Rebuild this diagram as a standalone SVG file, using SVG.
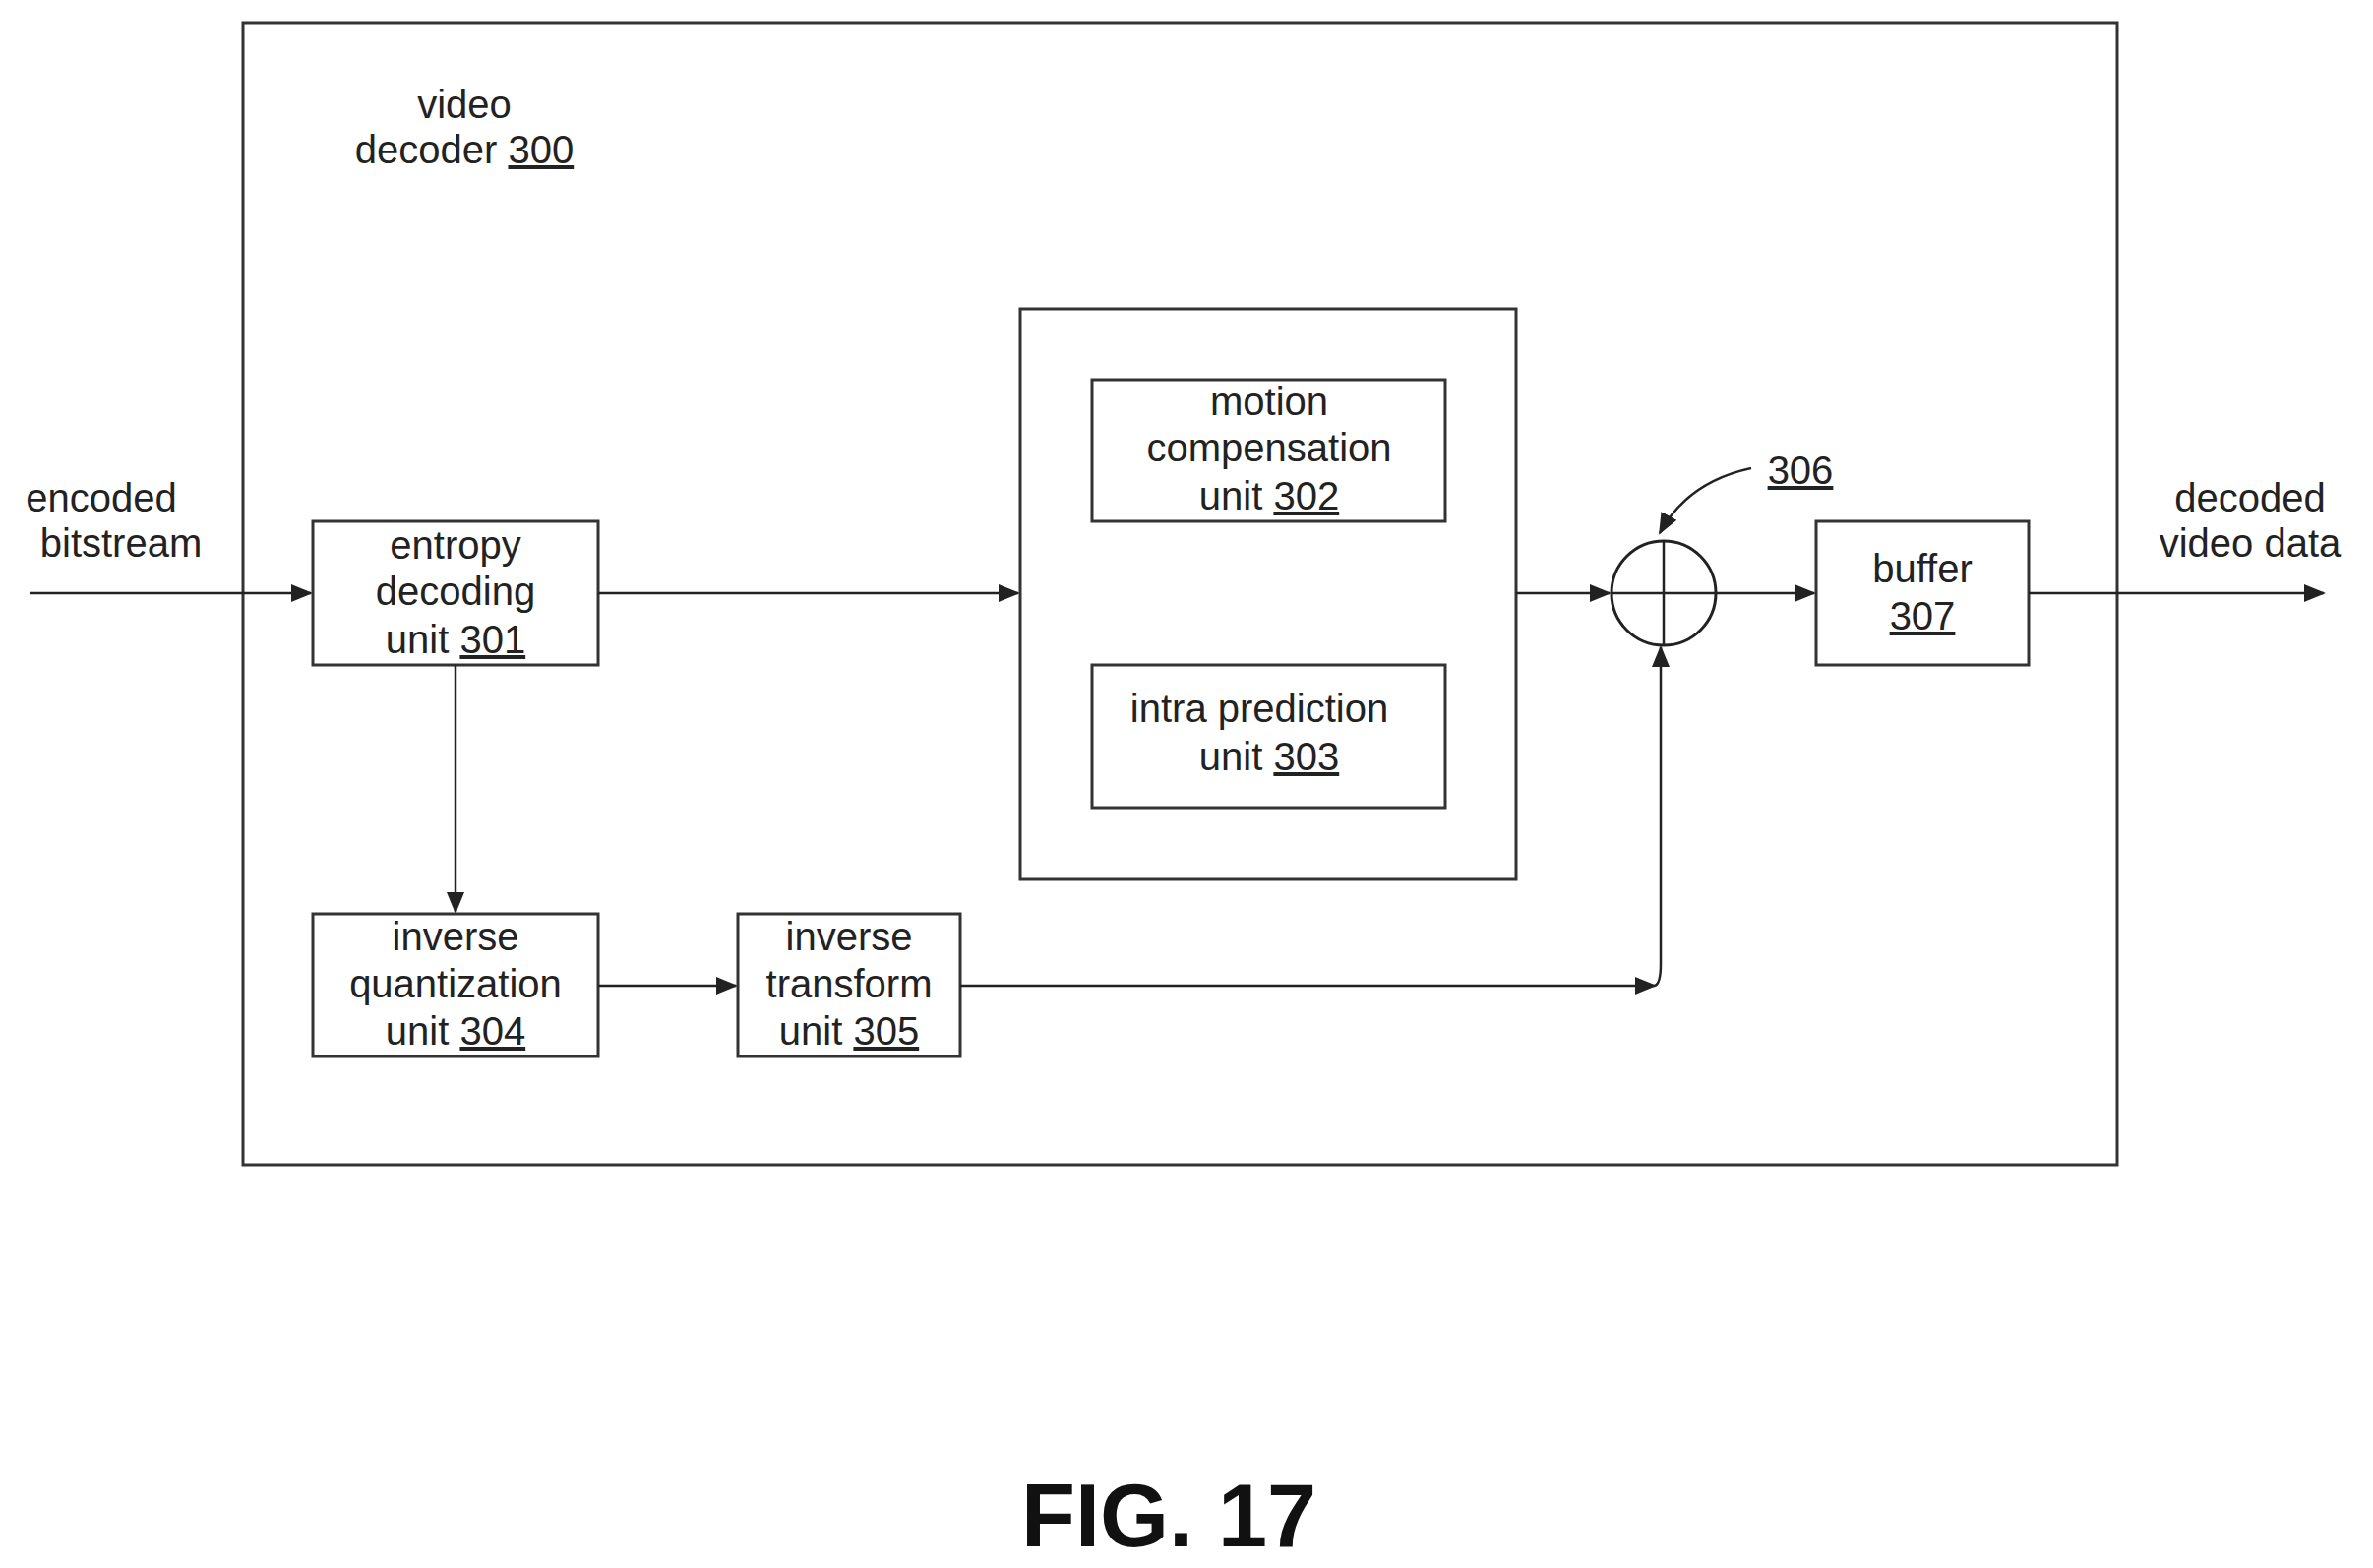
<svg xmlns="http://www.w3.org/2000/svg" width="2412" height="1594" viewBox="0 0 2412 1594">
<style>
rect{fill:none;stroke:#333;stroke-width:3}
text{font-family:"Liberation Sans",Arial,sans-serif;font-size:40px;fill:#222;text-anchor:middle}
.c{stroke:#222;stroke-width:2.5;fill:none}
.u{text-decoration:underline}
</style>
<defs><marker id="a" markerWidth="10" markerHeight="10" refX="9" refY="5" orient="auto" markerUnits="userSpaceOnUse" viewBox="0 0 10 10"><path d="M0,0L10,5L0,10z" fill="#222" transform="scale(1)"/></marker>
<marker id="b" markerWidth="22" markerHeight="18" refX="20" refY="9" orient="auto" markerUnits="userSpaceOnUse"><path d="M0,0L22,9L0,18z" fill="#222"/></marker></defs>
<rect fill="#fff" x="0" y="0" width="2412" height="1594" style="fill:#fff;stroke:none"/>
<g id="decoder300"><rect x="247" y="23" width="1905" height="1161"/><text x="472" y="120">video</text><text x="472" y="166">decoder <tspan class="u">300</tspan></text></g>
<g id="entropy301"><rect x="318" y="530" width="290" height="146"/><text x="463" y="568">entropy</text><text x="463" y="615">decoding</text><text x="463" y="664">unit <tspan class="u">301</tspan></text></g>
<g id="pred"><rect x="1037" y="314" width="504" height="580"/></g>
<g id="motion302"><rect x="1110" y="386" width="359" height="144"/><text x="1290" y="422">motion</text><text x="1290" y="469">compensation</text><text x="1290" y="518">unit <tspan class="u">302</tspan></text></g>
<g id="intra303"><rect x="1110" y="676" width="359" height="145"/><text x="1280" y="734">intra prediction</text><text x="1290" y="783">unit <tspan class="u">303</tspan></text></g>
<g id="iq304"><rect x="318" y="929" width="290" height="145"/><text x="463" y="966">inverse</text><text x="463" y="1014">quantization</text><text x="463" y="1062">unit <tspan class="u">304</tspan></text></g>
<g id="it305"><rect x="750" y="929" width="226" height="145"/><text x="863" y="966">inverse</text><text x="863" y="1014">transform</text><text x="863" y="1062">unit <tspan class="u">305</tspan></text></g>
<g id="sum306"><circle cx="1691" cy="603" r="53" class="c" style="stroke-width:3"/><path d="M1638,603H1744M1691,550V656" class="c"/><text x="1830" y="492" class="u">306</text></g>
<g id="buffer307"><rect x="1846" y="530" width="216" height="146"/><text x="1954" y="592">buffer</text><text x="1954" y="640" class="u">307</text></g>
<g id="labels"><text x="103" y="520">encoded</text><text x="123" y="566">bitstream</text><text x="2287" y="520">decoded</text><text x="2287" y="566">video data</text><text x="1188" y="1572" style="font-size:90px;font-weight:bold;fill:#111">FIG. 17</text></g>
<g id="connectors">
<path class="c" d="M31,603H316" marker-end="url(#b)"/>
<path class="c" d="M608,603H1035" marker-end="url(#b)"/>
<path class="c" d="M1541,603H1636" marker-end="url(#b)"/>
<path class="c" d="M1744,603H1844" marker-end="url(#b)"/>
<path class="c" d="M2062,603H2362" marker-end="url(#b)"/>
<path class="c" d="M463,676V927" marker-end="url(#b)"/>
<path class="c" d="M608,1002H748" marker-end="url(#b)"/>
<path class="c" d="M976,1002H1682" marker-end="url(#b)"/>
<path class="c" d="M1682,1002Q1688,1000 1688,980V658" marker-end="url(#b)"/>
<path class="c" d="M1780,476Q1715,490 1687,542" marker-end="url(#b)"/>
</g>
</svg>
